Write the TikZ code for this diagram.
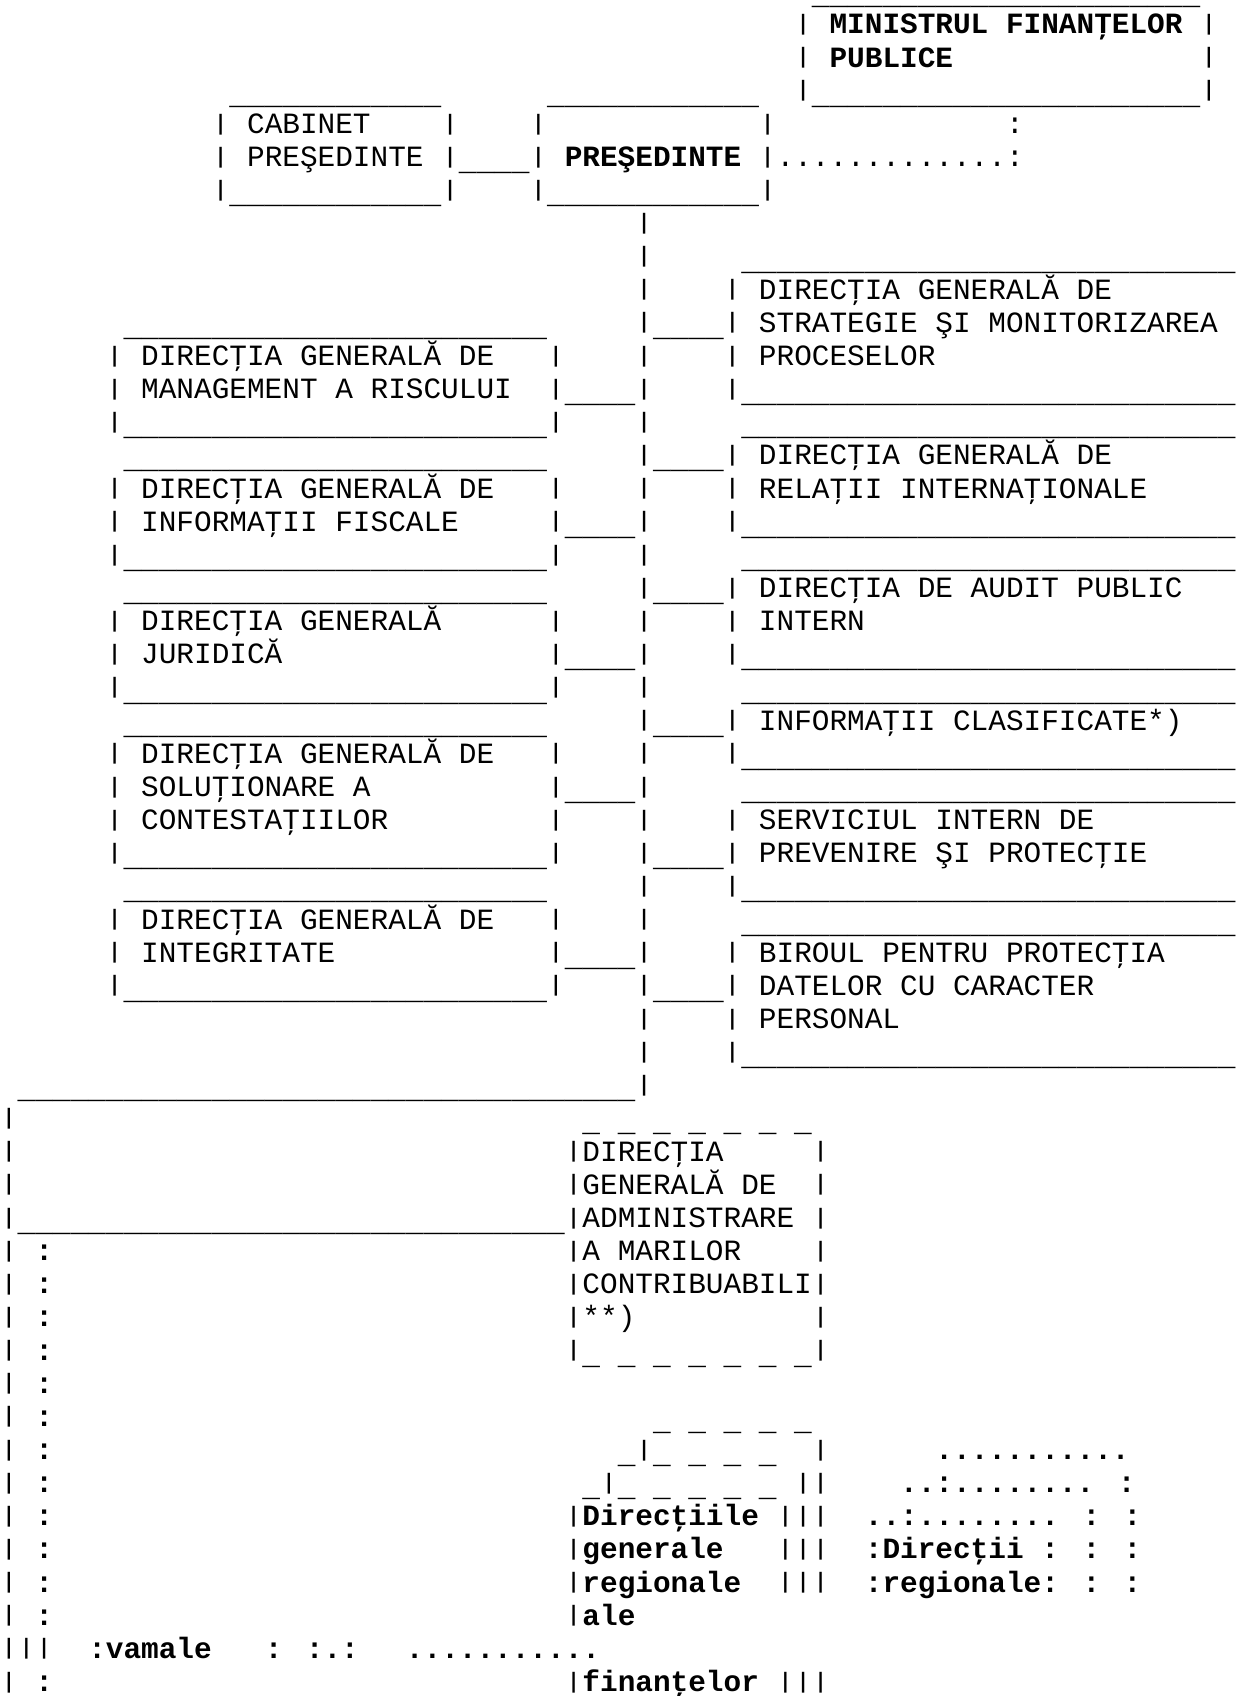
\documentclass[tikz,border=0pt]{standalone}
\usepackage{fontspec}
\usepackage{graphicx}
\usepackage{tikz}
\usetikzlibrary{positioning}
\newfontfamily\mono{Liberation Mono}

% one character cell and one text line
\newcommand{\cw}{8.825pt}
\newcommand{\lh}{16.575pt}
% bar and underscore glyphs set as in the typewriter original
\newcommand{\pp}{\raisebox{1.7pt}{\scalebox{1}[0.76]{|}}}
\newcommand{\ul}{\raisebox{-2pt}{\_}}
\newcommand{\us}[1]{\raisebox{-2pt}{\foreach \k in {1,...,#1}{\_}}}
% text starting at column #2 of line #3
\newcommand{\seg}[4][]{\node[cell,#1] (c_#3_#2) at (#2*\cw,-#3*\lh-0.425pt) {#4};}

\tikzset{
    cell/.style={inner sep=0pt, outer sep=0pt, anchor=base west,
        font=\mono\fontsize{14.706pt}{16pt}\selectfont},
    heavy/.style={font=\mono\fontsize{14.706pt}{16pt}\selectfont\bfseries}
}

\begin{document}
\begin{tikzpicture}
    \useasboundingbox (0,0) rectangle (620pt,-848pt);
    % ministry box
    \seg{46}{0}{\us{22}}
    \seg{45}{1}{\pp} \seg[heavy]{47}{1}{MINISTRUL FINANŢELOR} \seg{68}{1}{\pp}
    \seg{45}{2}{\pp} \seg[heavy]{47}{2}{PUBLICE} \seg{68}{2}{\pp}
    \seg{45}{3}{\pp\us{22}\pp}
    \seg{57}{4}{:}
    % cabinet and president
    \seg{13}{3}{\us{12}} \seg{31}{3}{\us{12}}
    \seg{12}{4}{\pp} \seg{14}{4}{CABINET} \seg{25}{4}{\pp} \seg{30}{4}{\pp} \seg{43}{4}{\pp}
    \seg{12}{5}{\pp} \seg{14}{5}{PREŞEDINTE} \seg{25}{5}{\pp\us{4}\pp}
    \seg[heavy]{32}{5}{PREŞEDINTE} \seg{43}{5}{\pp.............:}
    \seg{12}{6}{\pp\us{12}\pp} \seg{30}{6}{\pp\us{12}\pp}
    % main trunk
    \foreach \r in {7,...,33}{
        \seg{36}{\r}{\pp}
    }
    % left-side directorates
    \foreach \rtop/\rbot/\rlink in {10/13/12, 14/17/16, 18/21/20, 22/26/24, 27/30/29}{
        \seg{7}{\rtop}{\us{24}}
        \seg{6}{\rbot}{\pp\us{24}\pp}
        \seg{32}{\rlink}{\us{4}}
    }
    \foreach \r/\txt in {11/DIRECŢIA GENERALĂ DE, 12/MANAGEMENT A RISCULUI,
        15/DIRECŢIA GENERALĂ DE, 16/INFORMAŢII FISCALE,
        19/DIRECŢIA GENERALĂ, 20/JURIDICĂ,
        23/DIRECŢIA GENERALĂ DE, 24/SOLUŢIONARE A, 25/CONTESTAŢIILOR,
        28/DIRECŢIA GENERALĂ DE, 29/INTEGRITATE}{
        \seg{6}{\r}{\pp} \seg{8}{\r}{\txt} \seg{31}{\r}{\pp}
    }
    % right-side directorates
    \foreach \rtop/\rbot/\rlink in {8/12/10, 13/16/14, 17/20/18, 21/23/22, 24/27/26, 28/32/30}{
        \seg{42}{\rtop}{\us{28}}
        \seg{41}{\rbot}{\pp\us{28}}
        \seg{37}{\rlink}{\us{4}}
    }
    \foreach \r/\txt in {9/DIRECŢIA GENERALĂ DE, 10/STRATEGIE ŞI MONITORIZAREA, 11/PROCESELOR,
        14/DIRECŢIA GENERALĂ DE, 15/RELAŢII INTERNAŢIONALE,
        18/DIRECŢIA DE AUDIT PUBLIC, 19/INTERN,
        22/INFORMAŢII CLASIFICATE*),
        25/SERVICIUL INTERN DE, 26/PREVENIRE ŞI PROTECŢIE,
        29/BIROUL PENTRU PROTECŢIA, 30/DATELOR CU CARACTER, 31/PERSONAL}{
        \seg{41}{\r}{\pp} \seg{43}{\r}{\txt}
    }
    % branch to the territorial units
    \seg{1}{33}{\us{35}}
    \foreach \r in {34,...,49}{
        \seg{0}{\r}{\pp}
    }
    \seg{0}{51}{\pp}
    \foreach \r in {38,...,49}{
        \seg[heavy]{2}{\r}{:}
    }
    \seg[heavy]{2}{51}{:}
    \seg{1}{37}{\us{31}}
    % large taxpayers (dashed box)
    \seg{33}{34}{\ul~\ul~\ul~\ul~\ul~\ul~\ul}
    \foreach \txt [count=\r from 35] in {DIRECŢIA, GENERALĂ DE, ADMINISTRARE, A MARILOR,
        CONTRIBUABILI, **), \ul~\ul~\ul~\ul~\ul~\ul~\ul}{
        \seg{32}{\r}{\pp} \seg{33}{\r}{\txt} \seg{46}{\r}{\pp}
    }
    % stacked regional directorates
    \seg{37}{43}{\ul~\ul~\ul~\ul~\ul}
    \seg{35}{44}{\ul\pp\ul~\ul~\ul~\ul} \seg{46}{44}{\pp}
    \seg{33}{45}{\ul\pp\ul~\ul~\ul~\ul~\ul} \seg{45}{45}{\pp\pp}
    \foreach \r/\txt in {46/Direcţiile, 47/generale, 48/regionale, 49/ale, 51/finanţelor}{
        \seg{32}{\r}{\pp} \seg[heavy]{33}{\r}{\txt}
    }
    \foreach \r in {46,47,48,51}{
        \seg{44}{\r}{\pp\pp\pp}
    }
    % dotted regional directorates
    \seg[heavy]{53}{44}{...........}
    \seg[heavy]{51}{45}{..:........ :}
    \seg[heavy]{49}{46}{..:........ : :}
    \seg[heavy]{49}{47}{:Direcţii : : :}
    \seg[heavy]{49}{48}{:regionale: : :}
    % customs line
    \seg{0}{50}{\pp\pp\pp}
    \seg[heavy]{5}{50}{:vamale}
    \seg[heavy]{15}{50}{: :.:}
    \seg[heavy]{23}{50}{...........}
\end{tikzpicture}
\end{document}
